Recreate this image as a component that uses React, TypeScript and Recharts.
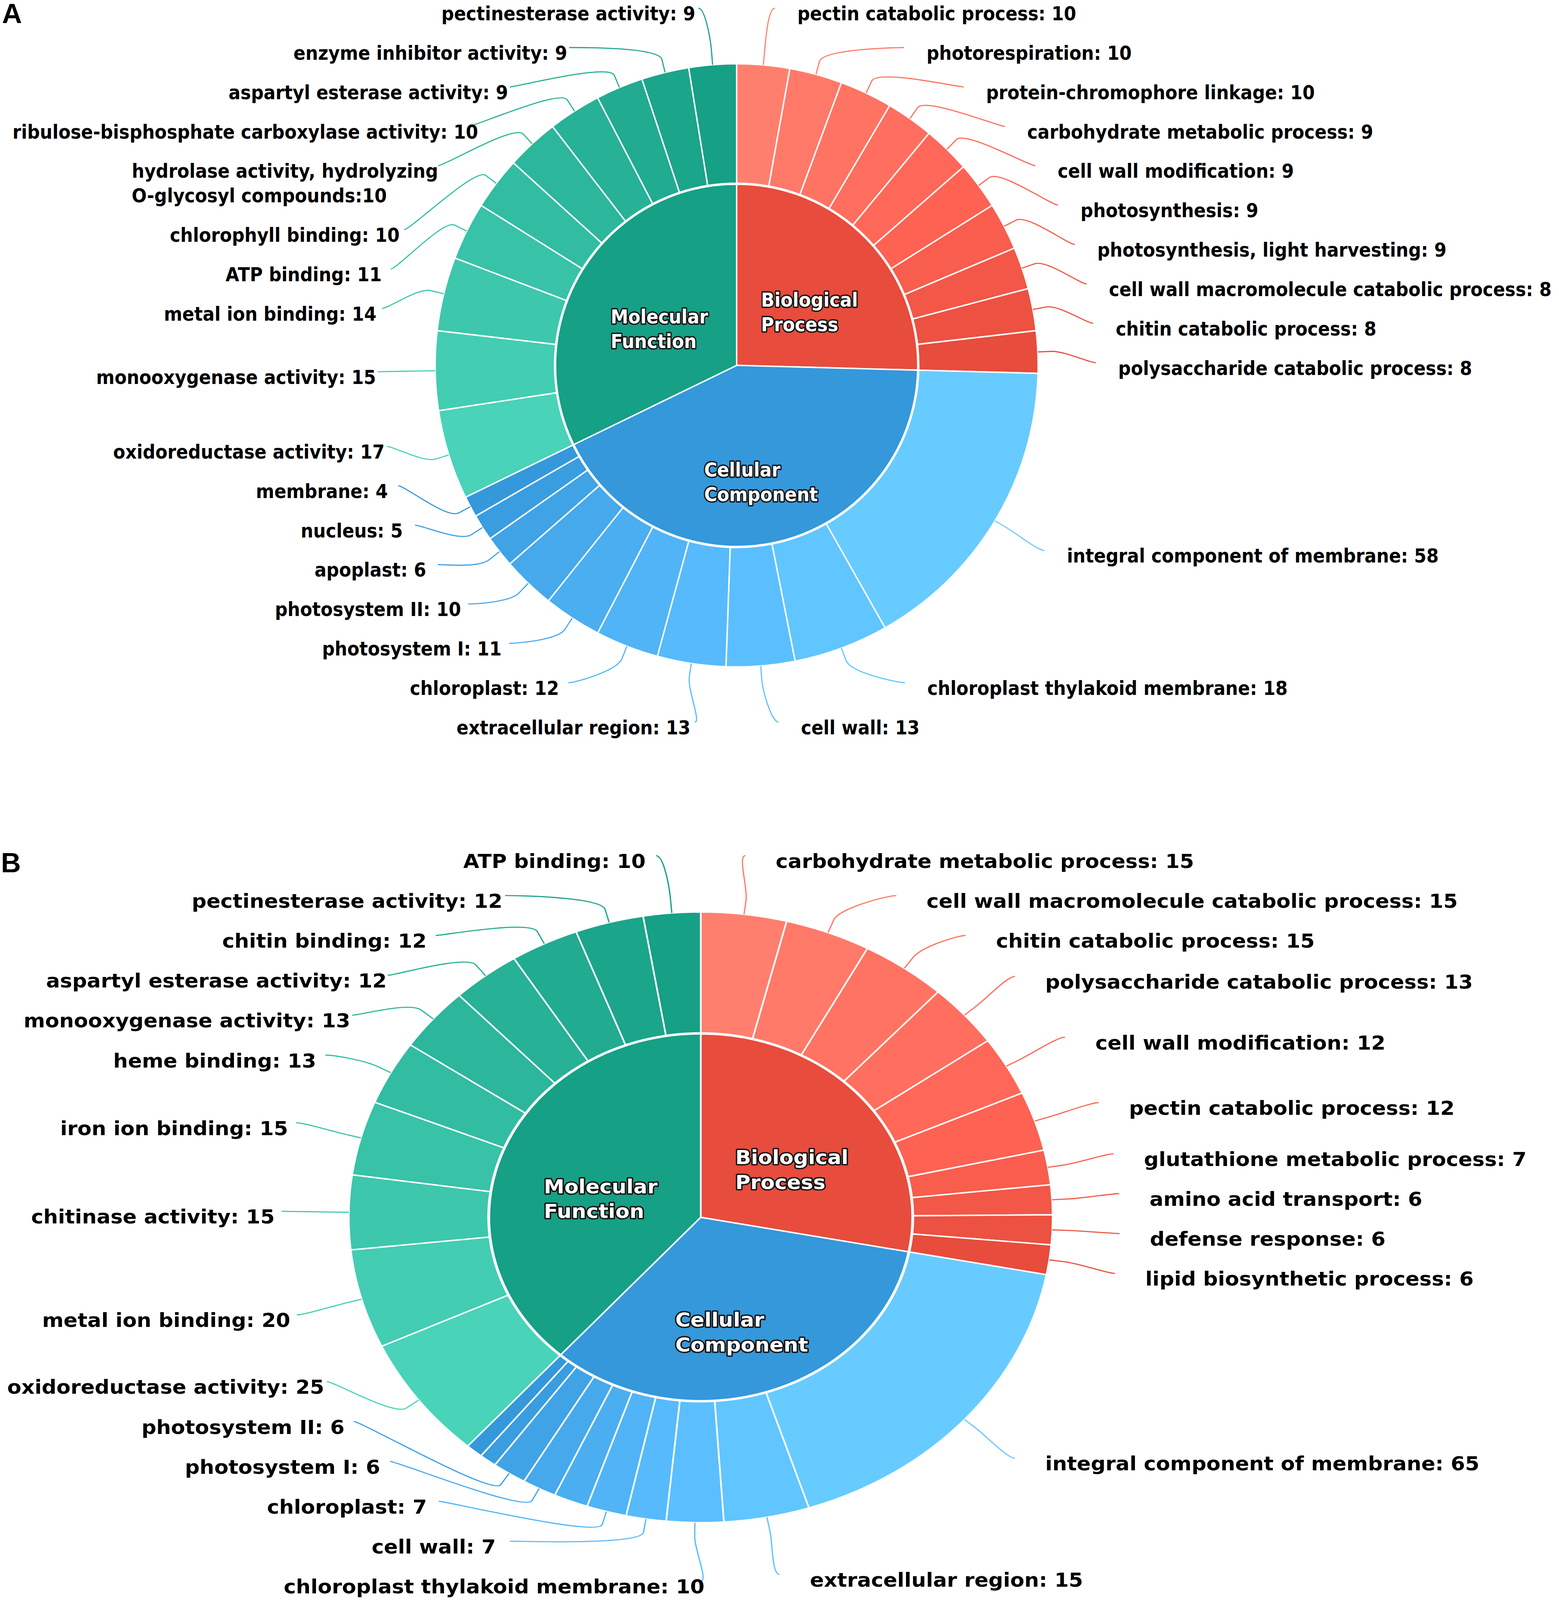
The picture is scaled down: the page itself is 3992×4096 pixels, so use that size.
import React from 'react';
import { PieChart, Pie, Cell } from 'recharts';

// reference was read at 1528x1568; everything below is in those units times S
const S = 3992 / 1528;
const W = 3992;
const H = 4096;

const categoryNames = ['Biological Process', 'Cellular Component', 'Molecular Function'];
const categoryColors = ['#E74C3C', '#3498DB', '#16A085'];

// ---- panel A
const bpNamesA = [
  'pectin catabolic process', 'photorespiration', 'protein-chromophore linkage',
  'carbohydrate metabolic process', 'cell wall modification', 'photosynthesis',
  'photosynthesis, light harvesting', 'cell wall macromolecule catabolic process',
  'chitin catabolic process', 'polysaccharide catabolic process',
];
const bpValuesA = [10, 10, 10, 9, 9, 9, 9, 8, 8, 8];
const ccNamesA = [
  'integral component of membrane', 'chloroplast thylakoid membrane', 'cell wall',
  'extracellular region', 'chloroplast', 'photosystem I', 'photosystem II',
  'apoplast', 'nucleus', 'membrane',
];
const ccValuesA = [58, 18, 13, 13, 12, 11, 10, 6, 5, 4];
const mfNamesA = [
  'oxidoreductase activity', 'monooxygenase activity', 'metal ion binding', 'ATP binding',
  'chlorophyll binding', 'hydrolase activity, hydrolyzing\nO-glycosyl compounds',
  'ribulose-bisphosphate carboxylase activity', 'aspartyl esterase activity',
  'enzyme inhibitor activity', 'pectinesterase activity',
];
const mfValuesA = [17, 15, 14, 11, 10, 10, 10, 9, 9, 9];

// ---- panel B (empty names = slices drawn without a label)
const bpNamesB = [
  'carbohydrate metabolic process', 'cell wall macromolecule catabolic process',
  'chitin catabolic process', 'polysaccharide catabolic process', 'cell wall modification',
  'pectin catabolic process', 'glutathione metabolic process', 'amino acid transport',
  'defense response', 'lipid biosynthetic process',
];
const bpValuesB = [15, 15, 15, 13, 12, 12, 7, 6, 6, 6];
const ccNamesB = [
  'integral component of membrane', 'extracellular region', 'chloroplast thylakoid membrane',
  'cell wall', 'chloroplast', '', 'photosystem I', 'photosystem II', '', '',
];
const ccValuesB = [65, 15, 10, 7, 7, 6, 6, 6, 3, 3];
const mfNamesB = [
  'oxidoreductase activity', 'metal ion binding', 'chitinase activity', 'iron ion binding',
  'heme binding', 'monooxygenase activity', 'aspartyl esterase activity', 'chitin binding',
  'pectinesterase activity', 'ATP binding',
];
const mfValuesB = [25, 20, 15, 15, 13, 13, 12, 12, 12, 10];

type Entry = { name: string; value: number; color: string };
type Geom = {
  k: number; sc: number; cx: number; cy: number; top: number; h: number;
  gapR: number; topBound: number; botBound: number;
};
type LabelPos = { x: number; y: number; side: number; lines: string[]; color: string };

const panelA: Geom = { k: 1, sc: 1, cx: 722, cy: 358, top: 0, h: 790, gapR: 22, topBound: 350, botBound: 349.6 };
const panelB: Geom = { k: 1.153, sc: 1.0125, cx: 686.8, cy: 402.8, top: 790, h: 778, gapR: 25.5, topBound: 350, botBound: 352 };

const FONT = '"DejaVu Sans", sans-serif';
const SX = 0.91;

const brighten = (hex: string, a: number) => {
  const n = parseInt(hex.slice(1), 16);
  const add = Math.floor(a * 255);
  const ch = [(n >> 16) & 255, (n >> 8) & 255, n & 255].map((v) => Math.min(255, v + add));
  return `rgb(${ch.join(',')})`;
};

function buildItems(groups: [string[], number[]][]): Entry[] {
  const items: Entry[] = [];
  groups.forEach(([names, values], c) => {
    const n = values.length;
    values.forEach((v, j) =>
      items.push({ name: names[j], value: v, color: brighten(categoryColors[c], (0.2 * (n - 1 - j)) / (n - 1)) })
    );
  });
  return items;
}

function buildCats(groups: [string[], number[]][]) {
  return groups.map(([, values], c) => ({
    name: categoryNames[c],
    value: values.reduce((s, v) => s + v, 0),
    color: categoryColors[c],
  }));
}

let ctx: CanvasRenderingContext2D | null = null;
function textWidth(s: string, fs: number) {
  if (!ctx) ctx = document.createElement('canvas').getContext('2d');
  if (!ctx) return s.length * fs * 0.6;
  ctx.font = `bold ${fs}px ${FONT}`;
  return ctx.measureText(s).width;
}

function labelLines(d: Entry) {
  if (d.name.includes('\n')) {
    const parts = d.name.split('\n');
    parts[parts.length - 1] += ':' + d.value;
    return parts;
  }
  return [`${d.name}: ${d.value}`];
}

type Node = { i: number; target: number; size: number; off: number; lines: string[]; y: number };

// push overlapping label boxes apart, keeping them between lo and hi
function distribute(nodes: Node[], lo: number, hi: number) {
  type Group = { members: Node[]; size: number; start: number };
  const place = (g: Group) => {
    let acc = 0;
    let sum = 0;
    g.members.forEach((m) => {
      sum += m.target - m.off - acc;
      acc += m.size;
    });
    g.start = Math.max(lo, Math.min(hi - g.size, sum / g.members.length));
  };
  const groups: Group[] = nodes.map((n) => ({ members: [n], size: n.size, start: 0 }));
  groups.forEach(place);
  let merged = true;
  while (merged) {
    merged = false;
    for (let i = 0; i < groups.length - 1; i++) {
      const a = groups[i];
      const b = groups[i + 1];
      if (a.start + a.size > b.start + 0.01) {
        a.members = a.members.concat(b.members);
        a.size += b.size;
        groups.splice(i + 1, 1);
        place(a);
        merged = true;
        break;
      }
    }
  }
  groups.forEach((g) => {
    let acc = g.start;
    g.members.forEach((m) => {
      m.y = acc + m.off;
      acc += m.size;
    });
  });
}

function computeLayout(items: Entry[], g: Geom): (LabelPos | null)[] {
  const total = items.reduce((s, d) => s + d.value, 0);
  const cx = (g.cx / g.k) * S;
  const cy = g.cy * S;
  const R = 352 * g.sc * S;
  const lineH = 38.6 * g.sc * S;
  const extraH = 24 * g.sc * S;
  const lo = cy - g.topBound * g.sc * S - lineH / 2;
  const hi = cy + g.botBound * g.sc * S + lineH / 2;
  const out: (LabelPos | null)[] = items.map(() => null);
  const right: Node[] = [];
  const left: Node[] = [];
  let acc = 0;
  items.forEach((d, i) => {
    const th = ((acc + d.value / 2) / total) * 2 * Math.PI;
    acc += d.value;
    if (!d.name) return;
    const lines = labelLines(d);
    const node = { i, target: cy - R * Math.cos(th), size: lineH + extraH * (lines.length - 1), off: lineH / 2, lines, y: 0 };
    (th < Math.PI ? right : left).push(node);
  });
  [right, left].forEach((nodes, s) => {
    nodes.sort((a, b) => a.target - b.target);
    distribute(nodes, lo, hi);
    const side = s === 0 ? 1 : -1;
    nodes.forEach((n) => {
      const dy = n.y - cy;
      out[n.i] = {
        x: cx + side * Math.sqrt(Math.max(0, R * R - dy * dy)),
        y: n.y,
        side,
        lines: n.lines,
        color: items[n.i].color,
      };
    });
  });
  return out;
}

const RAD = Math.PI / 180;

function Panel({ groups, g }: { groups: [string[], number[]][]; g: Geom }) {
  const items = buildItems(groups);
  const cats = buildCats(groups);
  const layout = computeLayout(items, g);
  const width = (1528 * S) / g.k;
  const height = g.h * S;
  const cx = (g.cx / g.k) * S;
  const cy = g.cy * S;
  const fs = 19 * g.sc * S;

  const renderOuter = (p: any) => {
    const L = layout[p.index];
    if (!L) return null;
    const pcx = p.cx ?? cx;
    const pcy = p.cy ?? cy;
    const r = p.outerRadius;
    const c = Math.cos(-p.midAngle * RAD);
    const s = Math.sin(-p.midAngle * RAD);
    const tx = pcx + r * c;
    const ty = pcy + r * s;
    const rb = r + 13 * g.sc * S;
    const bx = pcx + rb * c;
    const by = pcy + rb * s;
    const c1x = L.x - L.side * 6.5 * g.sc * S;
    const d = `M${L.x},${L.y} C${c1x},${L.y} ${2 * bx - tx},${2 * by - ty} ${bx},${by} L${tx},${ty}`;
    const base = L.y + 11.9 * g.sc * S;
    const lh = 24 * g.sc * S;
    let texts;
    if (L.side > 0) {
      const x0 = L.x + g.gapR * g.sc * S;
      texts = L.lines.map((ln, j) => (
        <text key={j} transform={`translate(${x0},${base + j * lh}) scale(${SX},1)`} textAnchor="start"
          fontFamily={FONT} fontWeight="bold" fontSize={fs} fill="#000">{ln}</text>
      ));
    } else {
      // right-aligned text: long labels run slightly past the connector end
      const w0 = textWidth(L.lines[0], fs) * SX;
      const xr = L.x - 18 * g.sc * S + 0.06 * w0;
      texts = L.lines.map((ln, j) =>
        j === 0 ? (
          <text key={j} transform={`translate(${xr},${base}) scale(${SX},1)`} textAnchor="end"
            fontFamily={FONT} fontWeight="bold" fontSize={fs} fill="#000">{ln}</text>
        ) : (
          <text key={j} transform={`translate(${xr - w0},${base + j * lh}) scale(${SX},1)`} textAnchor="start"
            fontFamily={FONT} fontWeight="bold" fontSize={fs} fill="#000">{ln}</text>
        )
      );
    }
    return (
      <g>
        <path d={d} fill="none" stroke={L.color} strokeWidth={1.1 * S} />
        {texts}
      </g>
    );
  };

  const renderInner = (p: any) => {
    const name = categoryNames[p.index];
    if (!name) return null;
    const lines = name.split(' ');
    const pcx = p.cx ?? cx;
    const pcy = p.cy ?? cy;
    const bxc = pcx + 0.53 * p.outerRadius * Math.cos(-p.midAngle * RAD) + 4 * g.sc * S;
    const byc = pcy + 0.56 * p.outerRadius * Math.sin(-p.midAngle * RAD) + 17 * g.sc * S;
    const lh = 24 * g.sc * S;
    const maxW = Math.max(...lines.map((ln) => textWidth(ln, fs))) * SX;
    const left = bxc - maxW / 2;
    return (
      <g>
        {lines.map((ln, j) => (
          <text key={j} transform={`translate(${left},${byc + (j - 0.5) * lh + 0.36 * fs}) scale(${SX},1)`}
            textAnchor="start" fontFamily={FONT} fontWeight="bold" fontSize={fs} fill="#fff"
            stroke="#141414" strokeWidth={2.7 * S} strokeLinejoin="round" paintOrder="stroke">{ln}</text>
        ))}
      </g>
    );
  };

  return (
    <div style={{ position: 'absolute', left: 0, top: g.top * S, width, height, transform: `scaleX(${g.k})`, transformOrigin: '0 0' }}>
      <PieChart width={width} height={height} margin={{ top: 0, right: 0, bottom: 0, left: 0 }}>
        <Pie data={cats} dataKey="value" nameKey="name" cx={cx} cy={cy} innerRadius={0}
          outerRadius={177.5 * g.sc * S} startAngle={90} endAngle={-270} stroke="#fff"
          strokeWidth={1.4 * S} isAnimationActive={false} label={renderInner} labelLine={false}>
          {cats.map((c) => <Cell key={c.name} fill={c.color} stroke="#fff" strokeWidth={1.4 * S} />)}
        </Pie>
        <Pie data={items} dataKey="value" nameKey="name" cx={cx} cy={cy} innerRadius={178.5 * g.sc * S}
          outerRadius={295.5 * g.sc * S} startAngle={90} endAngle={-270} stroke="#fff"
          strokeWidth={1.4 * S} isAnimationActive={false} label={renderOuter} labelLine={false}>
          {items.map((d, i) => <Cell key={i} fill={d.color} stroke="#fff" strokeWidth={1.4 * S} />)}
        </Pie>
      </PieChart>
    </div>
  );
}

const groupsA: [string[], number[]][] = [[bpNamesA, bpValuesA], [ccNamesA, ccValuesA], [mfNamesA, mfValuesA]];
const groupsB: [string[], number[]][] = [[bpNamesB, bpValuesB], [ccNamesB, ccValuesB], [mfNamesB, mfValuesB]];

const letterStyle = (left: number, top: number): React.CSSProperties => ({
  position: 'absolute',
  left: left * S,
  top: top * S,
  fontFamily: '"Liberation Sans", Arial, sans-serif',
  fontWeight: 'bold',
  fontSize: 27 * S,
  lineHeight: `${27 * S}px`,
  color: '#000',
});

export default function App() {
  return (
    <div style={{ position: 'absolute', left: 0, top: 0, width: W, height: H, background: '#fff', overflow: 'hidden' }}>
      <Panel groups={groupsA} g={panelA} />
      <Panel groups={groupsB} g={panelB} />
      <div style={letterStyle(2, 0)}>A</div>
      <div style={letterStyle(1, 832.3)}>B</div>
    </div>
  );
}
